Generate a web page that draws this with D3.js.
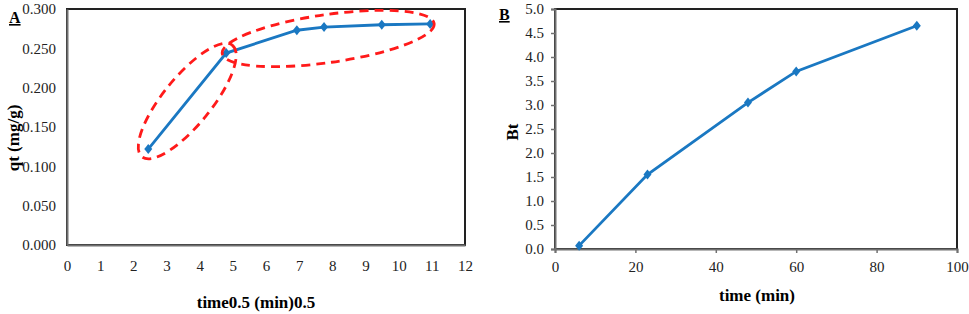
<!DOCTYPE html>
<html><head><meta charset="utf-8">
<script src="https://cdn.jsdelivr.net/npm/d3@7"></script>
<style>
body{margin:0;background:#fff;}
svg{display:block;}
text{font-family:"Liberation Serif","Times New Roman",serif;}
</style></head>
<body>
<svg id="c" width="969" height="314"></svg>
<script>
// Panel A data: square root of time vs qt
const sqrtTime = [2.45, 4.80, 6.93, 7.75, 9.49, 10.95];
const qt = [0.122, 0.244, 0.273, 0.277, 0.280, 0.281];
const aXTicks = [0,1,2,3,4,5,6,7,8,9,10,11,12];
const aYTicks = [0,0.05,0.1,0.15,0.2,0.25,0.3];
// Ellipse groups (indices of enclosed points)
const groups = [[0,1],[1,5]];
// Panel B data: time vs Bt
const timeB = [6, 23, 48, 60, 90];
const bt = [0.07, 1.55, 3.05, 3.70, 4.65];
const bXTicks = [0,20,40,60,80,100];
const bYTicks = [0,0.5,1,1.5,2,2.5,3,3.5,4,4.5,5];

const svg = d3.select("#c");
const blue = "#1a78c2";

function panel(o){
  const g = svg.append("g");
  const x = d3.scaleLinear().domain(o.xd).range(o.xr);
  const y = d3.scaleLinear().domain(o.yd).range(o.yr);
  g.append("rect").attr("x",o.xr[0]).attr("y",o.yr[1]).attr("width",o.xr[1]-o.xr[0]).attr("height",o.yr[0]-o.yr[1])
    .attr("fill","none").attr("stroke","#222").attr("stroke-width",2);
  const xa = g.append("g").attr("transform",`translate(0,${o.yr[0]})`)
    .call(d3.axisBottom(x).tickValues(o.xt).tickSize(o.ts).tickPadding(o.xpad).tickFormat(d3.format("d")));
  const ya = g.append("g").attr("transform",`translate(${o.xr[0]},0)`)
    .call(d3.axisLeft(y).tickValues(o.yt).tickSize(o.ts).tickPadding(o.ypad).tickFormat(d3.format(o.yf)));
  [xa,ya].forEach(a=>{
    a.select(".domain").attr("stroke","#707070").attr("stroke-width",2);
    a.selectAll(".tick line").attr("stroke","#707070").attr("stroke-width",1.5);
    a.selectAll("text").attr("font-size",15).attr("fill","#222").attr("font-family","Liberation Serif");
  });
  const line = d3.line().x((d,i)=>x(o.xs[i])).y((d,i)=>y(o.ys[i]));
  g.append("path").datum(o.ys).attr("d",line).attr("fill","none").attr("stroke",blue).attr("stroke-width",2.8);
  g.selectAll(".m").data(o.ys).join("path")
    .attr("transform",(d,i)=>`translate(${x(o.xs[i])},${y(d)})`)
    .attr("d","M0,-5 L4,0 L0,5 L-4,0 Z").attr("fill",blue);
  return {g,x,y};
}

const A = panel({xd:[0,12],xr:[67,465],yd:[0,0.3],yr:[245,9],xt:aXTicks,yt:aYTicks,ts:0,xpad:15,ypad:11,yf:".3f",xs:sqrtTime,ys:qt});
const B = panel({xd:[0,100],xr:[555,957],yd:[0,5],yr:[249,9],xt:bXTicks,yt:bYTicks,ts:4,xpad:8,ypad:7,yf:".1f",xs:timeB,ys:bt});

// red dashed ellipses around groups of points in panel A
const pads = [10, 4], minor = [24, 24];
groups.forEach((gr,k)=>{
  const p0 = [A.x(sqrtTime[gr[0]]), A.y(qt[gr[0]])];
  const p1 = [A.x(sqrtTime[gr[1]]), A.y(qt[gr[1]])];
  const cx=(p0[0]+p1[0])/2, cy=(p0[1]+p1[1])/2;
  const ang = Math.atan2(p1[1]-p0[1], p1[0]-p0[0])*180/Math.PI;
  const half = Math.hypot(p1[0]-p0[0], p1[1]-p0[1])/2 + pads[k];
  A.g.append("ellipse").attr("cx",0).attr("cy",0).attr("rx",half).attr("ry",minor[k])
    .attr("transform",`translate(${cx},${cy}) rotate(${ang})`)
    .attr("fill","none").attr("stroke","#ff1a1a").attr("stroke-width",2.8).attr("stroke-dasharray","9,6");
});

// titles
svg.append("text").attr("x",9).attr("y",23).attr("font-size",16).attr("font-weight","bold").attr("text-decoration","underline").text("A");
svg.append("text").attr("x",499).attr("y",20).attr("font-size",16).attr("font-weight","bold").attr("text-decoration","underline").text("B");
svg.append("text").attr("transform","translate(19,138) rotate(-90)").attr("text-anchor","middle").attr("font-size",17).attr("font-weight","bold").text("qt (mg/g)");
svg.append("text").attr("x",256).attr("y",308).attr("text-anchor","middle").attr("font-size",17).attr("font-weight","bold").text("time0.5 (min)0.5");
svg.append("text").attr("transform","translate(518,132) rotate(-90)").attr("text-anchor","middle").attr("font-size",17).attr("font-weight","bold").text("Bt");
svg.append("text").attr("x",757).attr("y",301).attr("text-anchor","middle").attr("font-size",17).attr("font-weight","bold").text("time (min)");
</script>
</body></html>
